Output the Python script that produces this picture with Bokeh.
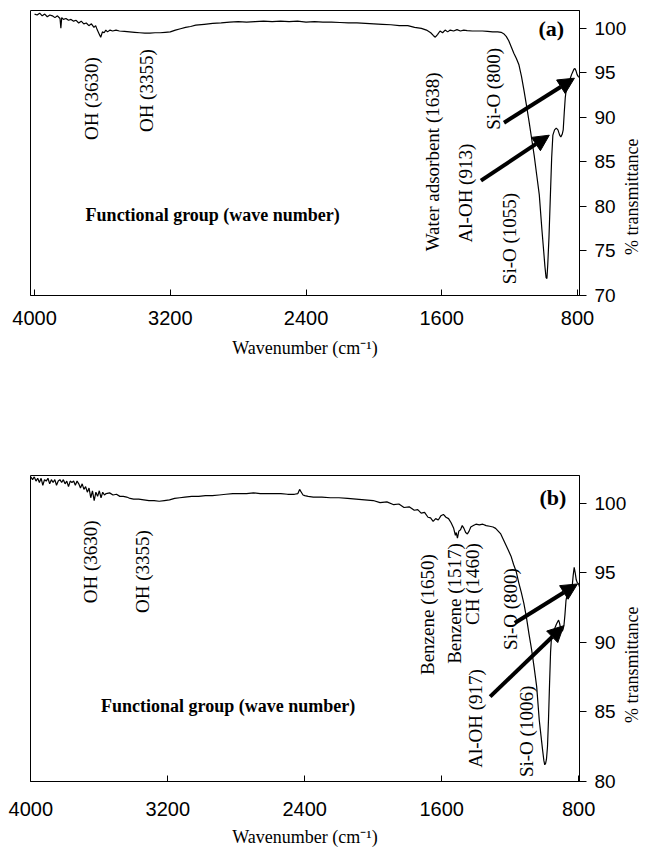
import math
from bokeh.plotting import figure
from bokeh.layouts import column
from bokeh.models import Range1d, FixedTicker, Label, Arrow, NormalHead
from bokeh.embed import file_html
from bokeh.resources import INLINE

# ---------------- data: panel (a) ----------------
wn_a = [4000, 3985, 3970, 3955, 3940, 3925, 3910, 3895, 3880, 3865, 3850, 3845, 3840, 3830,
        3815, 3800, 3785, 3770, 3755, 3740, 3725, 3710, 3695, 3680, 3665, 3650, 3640, 3630,
        3620, 3610, 3600, 3590, 3580, 3570, 3555, 3540, 3520, 3500, 3470, 3440, 3410, 3380,
        3350, 3320, 3290, 3260, 3230, 3200, 3170, 3140, 3110, 3080, 3050, 3000, 2950, 2900,
        2850, 2800, 2750, 2700, 2650, 2600, 2550, 2500, 2450, 2400, 2350, 2300, 2250, 2200,
        2150, 2100, 2050, 2000, 1950, 1900, 1850, 1800, 1760, 1720, 1690, 1665, 1650, 1638,
        1625, 1610, 1595, 1580, 1565, 1550, 1530, 1510, 1490, 1470, 1450, 1420, 1390, 1360,
        1330, 1300, 1270, 1250, 1235, 1220, 1205, 1190, 1175, 1160, 1145, 1130, 1115, 1100,
        1085, 1070, 1055, 1040, 1025, 1010, 1000, 992, 985, 980, 975, 968, 960, 952, 945,
        935, 925, 915, 905, 898, 890, 884, 878, 872, 865, 858, 850, 842, 835, 828, 821, 815,
        808, 802, 796, 790]
t_a = [101.6, 101.5, 101.7, 101.4, 101.6, 101.3, 101.5, 101.4, 101.2, 101.4, 101.1, 100.0, 101.2, 101.0,
       101.1, 100.9, 101.0, 100.8, 100.9, 100.6, 100.8, 100.5, 100.6, 100.3, 100.5, 100.1, 100.3, 99.8,
       99.4, 99.0, 99.6, 99.5, 99.8, 99.6, 99.8, 99.7, 99.8, 99.7, 99.65, 99.6, 99.55, 99.5,
       99.45, 99.45, 99.5, 99.5, 99.55, 99.6, 99.8, 99.95, 100.1, 100.2, 100.35, 100.45, 100.55, 100.6,
       100.7, 100.75, 100.7, 100.75, 100.8, 100.75, 100.8, 100.75, 100.8, 100.7, 100.75, 100.7, 100.7, 100.65,
       100.6, 100.6, 100.55, 100.5, 100.45, 100.4, 100.3, 100.3, 100.1, 100.0, 99.8, 99.5, 99.2, 99.0,
       99.3, 99.7, 99.5, 99.8, 99.6, 99.8, 99.7, 99.85, 99.7, 99.8, 99.75, 99.7, 99.7, 99.7,
       99.65, 99.6, 99.6, 99.55, 99.4, 99.1, 98.6, 97.9, 97.2, 96.6, 95.9, 94.6, 93.0, 91.3,
       89.5, 87.6, 85.7, 83.5, 81.3, 77.5, 75.2, 73.3, 72.0, 71.9, 73.5, 76.5, 81.0, 85.5, 88.0,
       88.6, 88.8, 88.6, 88.0, 87.8, 88.1, 88.6, 90.5, 92.2, 93.3, 93.6, 94.0, 94.4, 94.8, 95.1, 95.4, 95.5,
       95.2, 94.8, 94.6, 94.5]

# ---------------- data: panel (b) ----------------
wn_b = [4000, 3990, 3980, 3970, 3960, 3950, 3940, 3930, 3920, 3910, 3900, 3890, 3880, 3870,
        3860, 3850, 3840, 3830, 3820, 3810, 3800, 3790, 3780, 3770, 3760, 3750, 3740, 3730,
        3720, 3710, 3700, 3690, 3680, 3670, 3660, 3650, 3640, 3630, 3620, 3610, 3600, 3590,
        3580, 3570, 3560, 3540, 3520, 3500, 3480, 3460, 3440, 3420, 3400, 3370, 3340, 3310,
        3280, 3250, 3220, 3190, 3160, 3130, 3100, 3060, 3020, 2980, 2940, 2900, 2860, 2820,
        2780, 2740, 2700, 2660, 2620, 2580, 2540, 2500, 2460, 2440, 2430, 2420, 2410, 2400,
        2380, 2350, 2300, 2250, 2200, 2150, 2100, 2050, 2000, 1960, 1920, 1880, 1850, 1820,
        1790, 1760, 1740, 1720, 1700, 1680, 1665, 1650, 1635, 1620, 1605, 1590, 1575, 1560,
        1545, 1530, 1520, 1515, 1508, 1500, 1490, 1480, 1470, 1460, 1450, 1440, 1430, 1415,
        1400, 1380, 1360, 1340, 1320, 1300, 1285, 1270, 1255, 1240, 1225, 1210, 1195, 1180,
        1165, 1150, 1135, 1120, 1105, 1090, 1075, 1060, 1045, 1030, 1020, 1010, 1003, 998,
        993, 988, 982, 976, 970, 964, 958, 950, 940, 930, 922, 917, 912, 905, 898, 892, 886,
        880, 874, 868, 860, 852, 845, 838, 832, 826, 820, 814, 808, 800, 795]
t_b = [101.9, 101.7, 101.9, 101.6, 101.8, 101.5, 101.8, 101.3, 101.7, 101.6, 101.8, 101.4, 101.7, 101.5,
       101.7, 101.3, 101.6, 101.7, 101.5, 101.7, 101.4, 101.6, 101.2, 101.6, 101.5, 101.6, 101.3, 101.6,
       101.4, 101.1, 101.4, 101.0, 101.2, 100.8, 101.1, 100.4, 100.9, 100.2, 100.8, 100.5, 100.9, 100.4,
       100.8, 100.6, 100.7, 100.75, 100.6, 100.65, 100.5, 100.5, 100.45, 100.35, 100.3, 100.3, 100.25, 100.2,
       100.2, 100.15, 100.2, 100.25, 100.35, 100.4, 100.45, 100.5, 100.5, 100.55, 100.55, 100.6, 100.65, 100.7,
       100.7, 100.7, 100.75, 100.7, 100.7, 100.7, 100.7, 100.65, 100.65, 100.7, 101.0, 100.8, 100.6, 100.55,
       100.5, 100.45, 100.45, 100.4, 100.4, 100.35, 100.3, 100.25, 100.2, 100.05, 100.1, 99.9, 99.95, 99.7,
       99.75, 99.5, 99.55, 99.3, 99.35, 99.0, 98.95, 98.7, 98.9, 98.8, 99.1, 99.2, 99.0, 98.9,
       98.6, 98.2, 97.7, 97.9, 97.5, 98.0, 98.1, 98.4, 98.2, 97.9, 97.8, 98.0, 98.3, 98.4,
       98.5, 98.45, 98.5, 98.4, 98.35, 98.3, 98.2, 98.0, 97.8, 97.4, 97.0, 96.6, 96.2, 95.6,
       95.1, 94.3, 93.6, 92.8, 91.8, 90.6, 89.5, 88.2, 86.8, 84.4, 83.3, 82.2, 81.5, 81.2,
       81.3, 81.6, 82.5, 84.5, 87.0, 89.3, 90.5, 90.8, 91.0, 91.3, 91.5, 91.6, 91.4, 91.0, 90.8, 90.9, 91.2,
       92.0, 93.0, 93.4, 93.4, 93.5, 93.6, 94.0, 94.8, 95.4, 95.0, 94.5, 94.3, 94.2, 94.0]

x_ticks = [4000, 3200, 2400, 1600, 800]
y_ticks_a = [70, 75, 80, 85, 90, 95, 100]
y_ticks_b = [80, 85, 90, 95, 100]

x_label = "Wavenumber (cm\u207b\u00b9)"
y_label = "% transmittance"
group_title = "Functional group (wave number)"

# annotation texts with their anchor (wavenumber, %T)
notes_a = [("OH (3630)", 3665, 92.1), ("OH (3355)", 3341, 93.0),
           ("Water adsorbent (1638)", 1655, 85.0), ("Al-OH (913)", 1458, 81.5),
           ("Si-O (800)", 1292, 93.2), ("Si-O (1055)", 1203, 76.4)]
arrows_a = [(1233, 89.4, 818, 94.4), (1369, 82.9, 966, 88.0)]

notes_b = [("OH (3630)", 3650, 95.8), ("OH (3355)", 3345, 95.1),
           ("Benzene (1650)", 1684, 92.0), ("Benzene (1517)", 1528, 92.8),
           ("CH (1460)", 1420, 94.2), ("Al-OH  (917)", 1400, 84.7),
           ("Si-O (800)", 1196, 92.4), ("Si-O (1006)", 1105, 83.6)]
arrows_b = [(1173, 91.4, 807, 94.2), (1317, 86.1, 887, 91.2)]

SERIF = "Liberation Serif"
SANS = "Liberation Sans"
NBSP = "\u00a0"


def panel(wn, t, xr, yr, yticks, notes, arrows, tag, tag_pos, group_pos,
          frame_h, b_top, b_bottom, tick_standoff, lab_standoff, ylab_shift):
    p = figure(frame_width=549, frame_height=frame_h,
               x_range=Range1d(*xr), y_range=Range1d(*yr),
               y_axis_location="right", output_backend="svg", toolbar_location=None,
               min_border_left=30, min_border_right=70,
               min_border_top=b_top, min_border_bottom=b_bottom)
    p.line(wn, t, line_color="black", line_width=1.2)
    p.xgrid.visible = False
    p.ygrid.visible = False
    p.outline_line_color = "black"
    p.outline_line_width = 1
    p.outline_line_alpha = 1

    xa = p.xaxis[0]
    xa.ticker = FixedTicker(ticks=x_ticks)
    xa.major_tick_in = 6
    xa.major_tick_out = 0
    xa.minor_tick_in = 0
    xa.minor_tick_out = 0
    xa.major_label_text_font = SANS
    xa.major_label_text_font_size = "20px"
    xa.major_label_text_color = "black"
    xa.major_label_standoff = tick_standoff
    xa.axis_label = x_label
    xa.axis_label_text_font = SERIF
    xa.axis_label_text_font_style = "normal"
    xa.axis_label_text_font_size = "18px"
    xa.axis_label_text_color = "black"
    xa.axis_label_standoff = lab_standoff
    xa.axis_line_color = "black"
    xa.major_tick_line_color = "black"

    ya = p.yaxis[0]
    ya.ticker = FixedTicker(ticks=yticks)
    ya.major_tick_in = 0
    ya.major_tick_out = 7
    ya.minor_tick_in = 0
    ya.minor_tick_out = 0
    ya.major_label_text_font = SANS
    ya.major_label_text_font_size = "19px"
    ya.major_label_text_color = "black"
    ya.major_label_standoff = 8
    ya.axis_line_color = "black"
    ya.major_tick_line_color = "black"
    # label starts at the bottom of the axis; leading no-break spaces lift it
    ya.axis_label = NBSP * ylab_shift + y_label
    ya.axis_label_text_font = SERIF
    ya.axis_label_text_font_style = "normal"
    ya.axis_label_text_font_size = "18px"
    ya.axis_label_text_color = "black"
    ya.axis_label_align = "start"
    ya.axis_label_standoff = 3
    ya.axis_label_orientation = math.pi / 2

    for txt, x, y in notes:
        p.add_layout(Label(x=x, y=y, text=txt, angle=math.pi / 2, text_align="center",
                           text_baseline="middle", text_font=SERIF,
                           text_font_size="19px", text_color="black"))
    for x0, y0, x1, y1 in arrows:
        p.add_layout(Arrow(x_start=x0, y_start=y0, x_end=x1, y_end=y1, line_width=4,
                           line_color="black",
                           end=NormalHead(size=16, fill_color="black", line_color="black")))
    p.add_layout(Label(x=tag_pos[0], y=tag_pos[1], text=tag, text_align="center",
                       text_baseline="middle", text_font=SERIF, text_font_style="bold",
                       text_font_size="22px", text_color="black"))
    p.add_layout(Label(x=group_pos[0], y=group_pos[1], text=group_title, text_align="center",
                       text_baseline="middle", text_font=SERIF, text_font_style="bold",
                       text_font_size="18px", text_color="black"))
    return p


pa = panel(wn_a, t_a, (4024, 788), (70, 102), y_ticks_a, notes_a, arrows_a, "(a)", (954, 100.0),
           (2950, 79.0), frame_h=285, b_top=10, b_bottom=70, tick_standoff=15, lab_standoff=10,
           ylab_shift=9)
pb = panel(wn_b, t_b, (4002, 795), (80, 102), y_ticks_b, notes_b, arrows_b, "(b)", (950, 100.4),
           (2848, 85.4), frame_h=306, b_top=110, b_bottom=72, tick_standoff=20, lab_standoff=8,
           ylab_shift=13)

layout = column(pa, pb)
open("out.html", "w").write(file_html(layout, INLINE))
